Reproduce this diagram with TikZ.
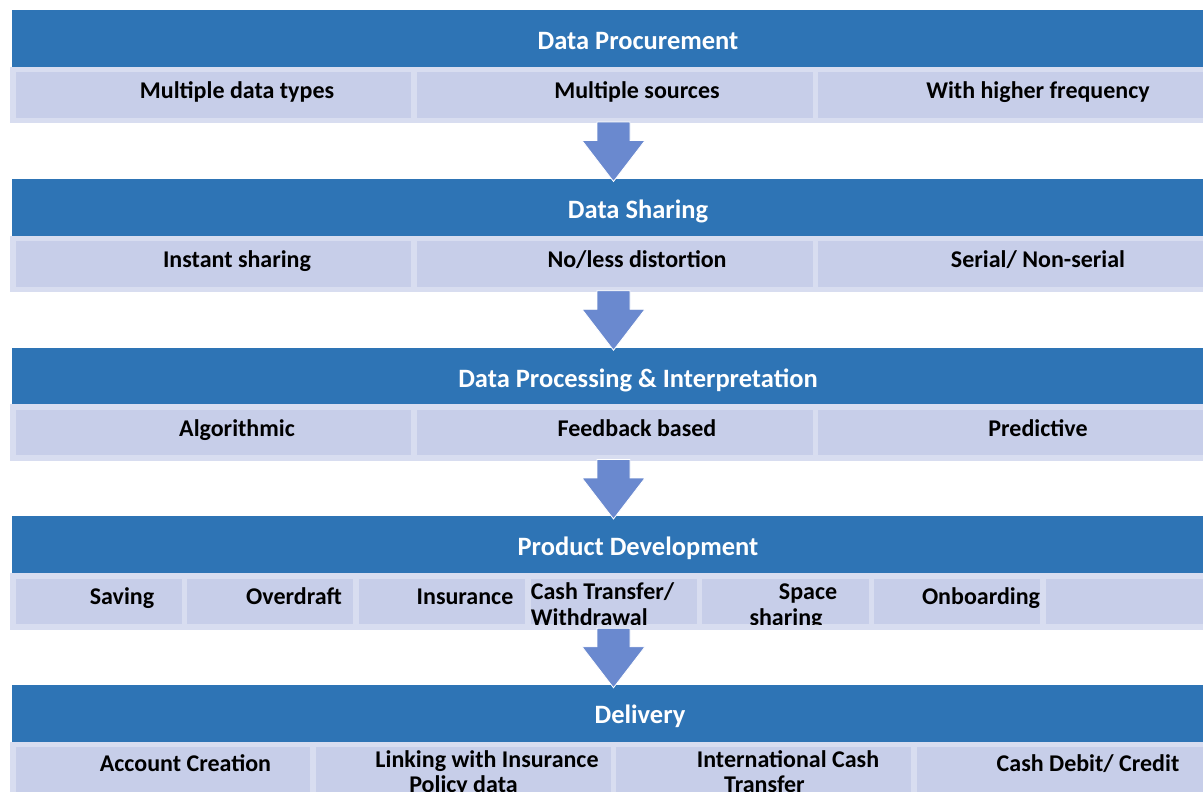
\documentclass[tikz,border=0pt]{standalone}
\usepackage{fontspec}
\setmainfont{Carlito}
\usetikzlibrary{calc}

\definecolor{hdrblue}{HTML}{2E74B5}
\definecolor{cellfill}{HTML}{C7CEE9}
\definecolor{cellline}{HTML}{D8DDF0}
\definecolor{arrowblue}{HTML}{6A89CF}

\tikzset{
  hdrbar/.style={fill=hdrblue, draw=none, anchor=north west, minimum width=1251pt,
    minimum height=57pt, inner sep=0pt, outer sep=0pt},
  hdrtext/.style={text=white, font=\bfseries\fontsize{26.5}{30}\selectfont, anchor=base,
    inner sep=0pt},
  cellbox/.style={fill=cellfill, draw=cellline, line width=5.5pt, anchor=north west,
    minimum height=51pt, minimum width=#1, inner sep=0pt, outer sep=0pt},
  celltext/.style={text=black, font=\bfseries\fontsize{24}{28}\selectfont, anchor=base,
    inner sep=0pt},
  celltextL/.style={celltext, anchor=base west},
  blockarrow/.style={fill=arrowblue, draw=white, line width=0.8pt, line join=miter},
}

% block arrow from the start point #1 down to the tip #2
\newcommand{\flowarrow}[2]{%
  \filldraw[blockarrow] ($(#1)+(-16.5,0)$) -- ($(#1)+(16.5,0)$) -- ($(#2)+(16.5,-41)$)
    -- ($(#2)+(31.5,-41)$) -- (#2) -- ($(#2)+(-31.5,-41)$) -- ($(#2)+(-16.5,-41)$) -- cycle;}

\begin{document}
\begin{tikzpicture}[x=1pt, y=-1pt]
\useasboundingbox (0,0) rectangle (1203,792);
\clip (0,0) rectangle (1203,792);

% ---------- stage 1: data procurement ----------
\def\T{10}
\node[hdrbar] (h1) at (12,\T) {};
\node[hdrtext] (h1t) at (638,\T+39.5) {Data Procurement};
\node[cellbox=401.3pt] (c11) at (12.75,\T+59.5) {};
\node[cellbox=401.3pt] (c12) at (414.05,\T+59.5) {};
\node[cellbox=401.3pt] (c13) at (815.35,\T+59.5) {};
\node[celltext] (t11) at (237,\T+89) {Multiple data types};
\node[celltext] (t12) at (637,\T+89) {Multiple sources};
\node[celltext] (t13) at (1038,\T+89) {With higher frequency};

% ---------- stage 2: data sharing ----------
\def\T{178.75}
\node[hdrbar] (h2) at (12,\T) {};
\node[hdrtext] (h2t) at (638,\T+39.5) {Data Sharing};
\node[cellbox=401.3pt] (c21) at (12.75,\T+59.5) {};
\node[cellbox=401.3pt] (c22) at (414.05,\T+59.5) {};
\node[cellbox=401.3pt] (c23) at (815.35,\T+59.5) {};
\node[celltext] (t21) at (237,\T+89) {Instant sharing};
\node[celltext] (t22) at (637,\T+89) {No/less distortion};
\node[celltext] (t23) at (1038,\T+89) {Serial/ Non-serial};

% ---------- stage 3: processing ----------
\def\T{347.5}
\node[hdrbar] (h3) at (12,\T) {};
\node[hdrtext] (h3t) at (638,\T+39.5) {Data Processing \& Interpretation};
\node[cellbox=401.3pt] (c31) at (12.75,\T+59.5) {};
\node[cellbox=401.3pt] (c32) at (414.05,\T+59.5) {};
\node[cellbox=401.3pt] (c33) at (815.35,\T+59.5) {};
\node[celltext] (t31) at (237,\T+89) {Algorithmic};
\node[celltext] (t32) at (637,\T+89) {Feedback based};
\node[celltext] (t33) at (1038,\T+89) {Predictive};

% ---------- stage 4: product development ----------
\def\T{516.25}
\node[hdrbar] (h4) at (12,\T) {};
\node[hdrtext] (h4t) at (638,\T+39.5) {Product Development};
\foreach \i in {0,...,6} {
  \node[cellbox=171.7pt] (c4\i) at (12.75+\i*171.7,\T+59.5) {};
}
\begin{scope}
  \clip (0,\T+62.25) rectangle (1203,\T+107.75);
  \node[celltext] (t41) at (122,\T+88.5) {Saving};
  \node[celltext] (t42) at (294,\T+88.5) {Overdraft};
  \node[celltext] (t43) at (465,\T+88.5) {Insurance};
  \node[celltextL] (t44a) at (530.7,\T+83) {Cash Transfer/};
  \node[celltextL] (t44b) at (530.7,\T+109.5) {Withdrawal};
  \node[celltext] (t45a) at (808,\T+83) {Space};
  \node[celltext] (t45b) at (786,\T+109.5) {sharing};
  \node[celltext] (t46) at (981,\T+88.5) {Onboarding};
\end{scope}

% ---------- stage 5: delivery ----------
\def\T{685}
\node[hdrbar] (h5) at (12,\T) {};
\node[hdrtext] (h5t) at (640,\T+38) {Delivery};
\foreach \i in {0,...,3} {
  \node[cellbox=300.45pt] (c5\i) at (12.75+\i*300.45,\T+59.5) {};
}
\node[celltext] (t51) at (185.5,\T+86.5) {Account Creation};
\node[celltext] (t52a) at (487,\T+82.5) {Linking with Insurance};
\node[celltext] (t52b) at (463.5,\T+107.5) {Policy data};
\node[celltext] (t53a) at (788,\T+82.5) {International Cash};
\node[celltext] (t53b) at (764.5,\T+107.5) {Transfer};
\node[celltext] (t54) at (1088,\T+86.5) {Cash Debit/ Credit};

% ---------- arrows between stages ----------
\foreach \k in {1,2,3,4} {
  \coordinate (as\k) at (613.5,122+\k*168.75-168.75);
  \coordinate (at\k) at ($(as\k)+(0,59.5)$);
}
\flowarrow{as1}{at1}
\flowarrow{as2}{at2}
\flowarrow{as3}{at3}
\flowarrow{as4}{at4}
\end{tikzpicture}
\end{document}
